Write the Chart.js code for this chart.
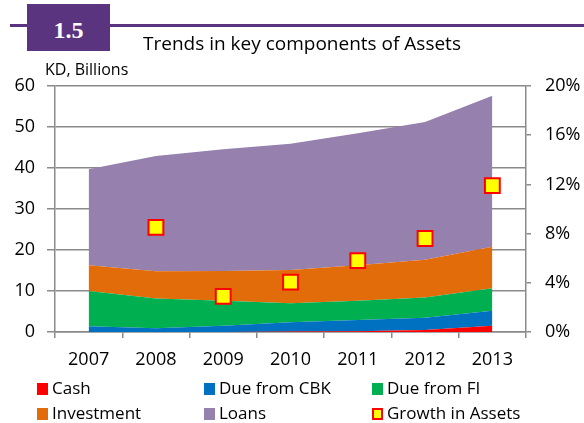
<!DOCTYPE html>
<html>
<head>
<meta charset="utf-8">
<script src="https://cdn.jsdelivr.net/npm/chart.js@4/dist/chart.umd.min.js"></script>
<style>
  body { margin: 0; background: #fff; font-family: "Open Sans", sans-serif; }
  #wrap { position: relative; width: 584px; height: 423px; overflow: hidden; }
  #chart { position: absolute; left: 0; top: 0; }
  .hdrline { position: absolute; left: 10px; top: 24px; width: 574px; height: 3px; background: #5b3480; }
  .hdrbox { position: absolute; left: 27px; top: 4px; width: 83px; height: 47px; background: #5b3480;
            color: #fff; font: bold 24px "Liberation Serif", serif; text-align: center; line-height: 52px; }
  .title { position: absolute; left: 143px; top: 30px; font-size: 19px; color: #000; white-space: nowrap; }
  .unit { position: absolute; left: 45px; top: 58px; font-size: 16px; color: #000; white-space: nowrap; }
  .leg { position: absolute; font-size: 17px; color: #000; white-space: nowrap; line-height: 20px; }
  .leg i { display: inline-block; width: 11px; height: 12px; margin-right: 4px; vertical-align: -1px; box-sizing: border-box; }
</style>
</head>
<body>
<div id="wrap">
  <canvas id="chart" width="584" height="423"></canvas>
  <div class="hdrline"></div>
  <div class="hdrbox">1.5</div>
  <div class="title">Trends in key components of Assets</div>
  <div class="unit">KD, Billions</div>
  <div id="legend"></div>
</div>
<script>
// 数据
const years = ['2007', '2008', '2009', '2010', '2011', '2012', '2013'];
const cash = [0, 0, 0, 0.1, 0.2, 0.5, 1.5];
const dueCBK = [1.4, 0.9, 1.5, 2.3, 2.7, 3.0, 3.7];
const dueFI = [8.6, 7.3, 6.1, 4.6, 4.7, 4.9, 5.5];
const investment = [6.3, 6.6, 7.3, 8.1, 8.7, 9.2, 10.1];
const loans = [23.4, 28.1, 29.7, 30.8, 32.2, 33.6, 36.8];
const growth = [null, 8.5, 2.9, 4.05, 5.8, 7.6, 11.9];

const areaSeries = [
  { label: 'Cash', data: cash, color: '#ff0000' },
  { label: 'Due from CBK', data: dueCBK, color: '#0070c0' },
  { label: 'Due from FI', data: dueFI, color: '#00b050' },
  { label: 'Investment', data: investment, color: '#e36c0a' },
  { label: 'Loans', data: loans, color: '#9580ae' }
];

const gridColor = '#8a8a8a';
const tickFont = { family: 'Open Sans', size: 18 };

const datasets = areaSeries.map((s, i) => ({
  label: s.label,
  data: s.data,
  yAxisID: 'y',
  backgroundColor: s.color,
  borderColor: s.color,
  borderWidth: 0,
  pointRadius: 0,
  tension: 0,
  fill: i === 0 ? 'origin' : '-1',
  order: 2
}));

datasets.push({
  label: 'Growth in Assets',
  data: growth,
  yAxisID: 'y1',
  showLine: false,
  pointStyle: 'rect',
  pointRadius: 10.5,
  pointBackgroundColor: '#ffff00',
  pointBorderColor: '#ff0000',
  pointBorderWidth: 2,
  order: 1
});

new Chart(document.getElementById('chart'), {
  type: 'line',
  data: { labels: years, datasets: datasets },
  options: {
    responsive: false,
    animation: false,
    layout: { padding: { top: 86, bottom: 51, left: 0, right: 0 } },
    plugins: { legend: { display: false }, tooltip: { enabled: false } },
    scales: {
      x: {
        offset: true,
        afterFit: s => { s.height = 40; },
        grid: { display: true, drawOnChartArea: false, offset: true, tickLength: 6, color: gridColor, lineWidth: 1.5 },
        border: { color: gridColor, width: 1.5 },
        ticks: { color: '#000', font: tickFont, padding: 11, maxRotation: 0 }
      },
      y: {
        stacked: true,
        min: 0, max: 60,
        afterFit: s => { s.width = 55; },
        grid: { color: gridColor, lineWidth: 1.5, tickLength: 8 },
        border: { color: gridColor, width: 1.5 },
        ticks: { stepSize: 10, color: '#000', font: tickFont, padding: 12 }
      },
      y1: {
        position: 'right',
        min: 0, max: 20,
        afterFit: s => { s.width = 58; },
        grid: { drawOnChartArea: false, color: gridColor, lineWidth: 1.5, tickLength: 5 },
        border: { color: gridColor, width: 1.5 },
        ticks: { stepSize: 4, color: '#000', font: tickFont, padding: 14, callback: v => v + '%' }
      }
    }
  }
});

// 图例
const legendItems = [
  { label: 'Cash', color: '#ff0000', x: 37, y: 378 },
  { label: 'Due from CBK', color: '#0070c0', x: 204, y: 378 },
  { label: 'Due from FI', color: '#00b050', x: 372, y: 378 },
  { label: 'Investment', color: '#e36c0a', x: 37, y: 403 },
  { label: 'Loans', color: '#9580ae', x: 204, y: 403 },
  { label: 'Growth in Assets', color: '#ffff00', border: '#ff0000', x: 372, y: 403 }
];
const legendEl = document.getElementById('legend');
legendItems.forEach(item => {
  const d = document.createElement('div');
  d.className = 'leg';
  d.style.left = item.x + 'px';
  d.style.top = item.y + 'px';
  const box = document.createElement('i');
  box.style.background = item.color;
  if (item.border) box.style.border = '2px solid ' + item.border;
  d.appendChild(box);
  d.appendChild(document.createTextNode(item.label));
  legendEl.appendChild(d);
});
</script>
</body>
</html>
